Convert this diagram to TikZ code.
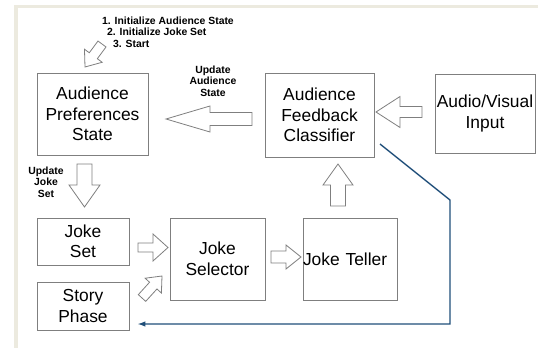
\documentclass[tikz,border=0pt]{standalone}
\usepackage{fontspec}
\setmainfont{Liberation Sans}
\usepackage{tikz}
\usetikzlibrary{arrows.meta,calc}
\definecolor{fbblue}{HTML}{1F4E79}
\definecolor{pagerim}{HTML}{ECEADF}
\definecolor{boxgrey}{HTML}{7F7F7F}
% hollow block arrow: tail, tip, half shaft, half head, head length
\newcommand{\fatarrow}[5]{%
  \coordinate (fa-h) at ($(#2)!#5!(#1)$);
  \draw[fat] ($(#1)!#3!90:(#2)$) -- ($(fa-h)!#3!90:(#2)$) -- ($(fa-h)!#4!90:(#2)$)
    -- (#2) -- ($(fa-h)!#4!-90:(#2)$) -- ($(fa-h)!#3!-90:(#2)$) -- ($(#1)!#3!-90:(#2)$) -- cycle;}

\begin{document}
\begin{tikzpicture}[x=1pt,y=-1pt,
  box/.style={draw=boxgrey,line width=0.8pt,fill=white,inner sep=0pt,align=center,font=\fontsize{17.4}{20.5}\selectfont},
  note/.style={inner sep=0pt,font=\fontsize{10.4}{11.5}\selectfont\bfseries},
  fat/.style={draw=boxgrey,line width=0.8pt,fill=white,line join=miter},
  feedback/.style={draw=fbblue,line width=1.4pt,-{Latex[length=8pt,width=5.5pt]},shorten >=8pt}]
  \useasboundingbox (0,0) rectangle (538,348);
  \fill[pagerim] (14,5) rectangle (538,8);
  \fill[pagerim] (14,5) rectangle (18,348);

  \node[box,minimum width=111pt,minimum height=82pt] (prefs) at (92.5,114) {Audience\\Preferences\\State};
  \node[box,minimum width=109pt,minimum height=84pt] (classifier) at (319.5,115) {Audience\\Feedback\\Classifier};
  \node[box,minimum width=100pt,minimum height=79pt] (avinput) at (485,113.5) {Audio/Visual\\Input};
  \node[box,minimum width=92pt,minimum height=47pt] (jokeset) at (83,241.5) {Joke\\Set};
  \node[box,minimum width=92pt,minimum height=48pt] (story) at (83,306) {Story\\Phase};
  \node[box,minimum width=95pt,minimum height=82pt] (selector) at (217.5,259) {Joke\\Selector};
  \node[box,minimum width=94pt,minimum height=82pt,text width=94pt,align=left] (teller) at (350,259) {Joke Teller};

  \node[note,anchor=west] (init1) at (102,20.5) {1. Initialize Audience State};
  \node[note,anchor=west] (init2) at (107,32) {2. Initialize Joke Set};
  \node[note,anchor=west] (init3) at (113,44) {3. Start};
  \node[note,align=center] (updaud) at (213,81) {Update\\Audience\\State};
  \node[note,align=center] (updjoke) at (46,182) {Update\\Joke\\Set};

  \fatarrow{102,44}{85,67}{5pt}{11pt}{14pt}
  \fatarrow{252,119}{166,119}{6.5pt}{13pt}{44pt}
  \fatarrow{422,112}{376,112}{5.5pt}{15.5pt}{24pt}
  \fatarrow{338,206}{338,164}{7.5pt}{15pt}{21pt}
  \fatarrow{84.5,164}{84.5,207}{7.5pt}{15.5pt}{22pt}
  \fatarrow{138,247.5}{168,247.5}{4.5pt}{13.5pt}{15pt}
  \fatarrow{271,257}{301,257}{6pt}{12pt}{15pt}
  \fatarrow{142,298}{162,276}{5pt}{11pt}{13pt}

  \coordinate (fbstart) at (380,144);
  \coordinate (fbbend) at (450,200);
  \coordinate (fbfoot) at (450,324);
  \draw[feedback] (fbstart) -- (fbbend) -- (fbfoot) -- (fbfoot -| story.east);
\end{tikzpicture}
\end{document}
